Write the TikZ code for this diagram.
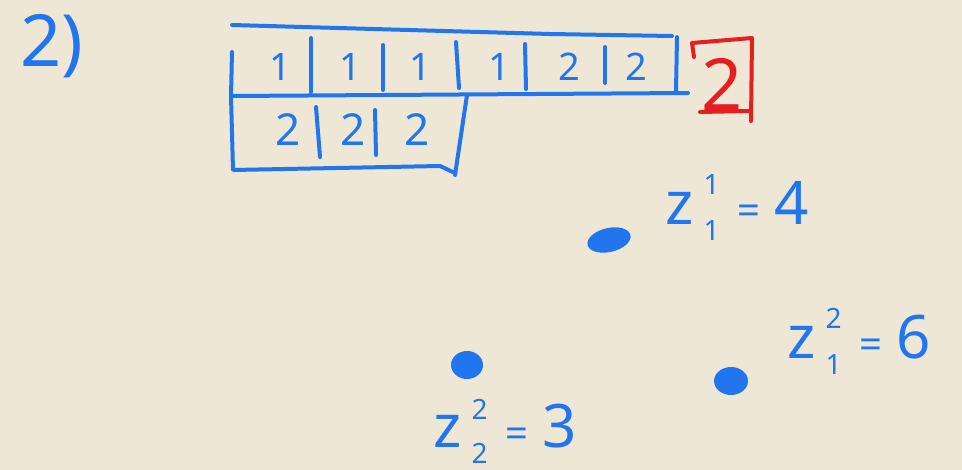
\documentclass[tikz,border=0pt]{standalone}
\usepackage{fontspec}
\setmainfont{Noto Sans}
\definecolor{paper}{RGB}{239,231,214}
\definecolor{inkblue}{RGB}{33,118,240}
\definecolor{inkred}{RGB}{230,30,34}
% z with a stacked upper and lower index, then its value
\newcommand{\zval}[4]{z\kern5pt\rlap{\raisebox{#4}{\fontsize{14}{14}\selectfont #1}}%
  \raisebox{-8pt}{\fontsize{14}{14}\selectfont #2}\kern9pt{\fontsize{20}{20}\selectfont =}\kern7pt#3}

\begin{document}
\begin{tikzpicture}[x=0.5pt,y=-0.5pt,
    pen/.style={inkblue,line width=2pt,line cap=round,line join=round},
    redpen/.style={pen,inkred},
    digit/.style={inkblue,font=\fontsize{19}{19}\selectfont},
    bigdigit/.style={inkblue,font=\fontsize{22}{22}\selectfont},
    zlabel/.style={inkblue,anchor=base west,inner sep=0pt,font=\fontsize{30}{30}\selectfont},
    blob/.style={fill=inkblue}]
  \fill[paper] (0,0) rectangle (962,470);
  \useasboundingbox (0,0) rectangle (962,470);
  % task number
  \node[inkblue,font=\fontsize{36}{36}\selectfont] (part) at (52,46) {2)};
  % outer frame of the two rows
  \draw[pen] (232,25) -- (550,34) -- (672,36);
  \draw[pen] (232,52) -- (231,96) -- (233,170) -- (440,166) -- (455,173);
  \draw[pen] (232,96) -- (688,93);
  \draw[pen] (677,37) -- (676,91);
  \draw[pen] (467,95) -- (455,175);
  % cell walls, first row
  \foreach \xa/\ya/\xb/\yb in {311/38/311/92,383/45/383/90,456/42/459/88,525/44/526/89,605/47/605/83}
    \draw[pen] (\xa,\ya) -- (\xb,\yb);
  % cell walls, second row
  \foreach \xa/\ya/\xb/\yb in {316/107/320/157,375/110/376/155}
    \draw[pen] (\xa,\ya) -- (\xb,\yb);
  % contents of the cells
  \foreach \x/\v [count=\i] in {280/1,350/1,420/1,499/1,569/2,636/2}
    \node[digit] (top\i) at (\x,67) {\v};
  \foreach \x/\v [count=\i] in {288/2,353/2,417/2}
    \node[bigdigit] (low\i) at (\x,130) {\v};
  % answer in red
  \draw[redpen] (694,57) -- (692,43) -- (752,38) -- (751,121);
  \draw[redpen] (700,112) -- (749,111);
  \node[inkred,font=\fontsize{36}{36}\selectfont] (result) at (722,84) {2};
  % points with their values
  \fill[blob,rotate around={13:(609,240)}] (609,240) ellipse [x radius=22,y radius=12];
  \fill[blob] (467,365) ellipse [x radius=16,y radius=14];
  \fill[blob] (731,381) ellipse [x radius=17,y radius=14];
  \node[zlabel] (z11) at (665,225) {\zval{1}{1}{4}{15pt}};
  \node[zlabel] (z12) at (787,358) {\zval{2}{1}{6}{15pt}};
  \node[zlabel] (z22) at (433,447) {\zval{2}{2}{3}{14pt}};
\end{tikzpicture}
\end{document}
